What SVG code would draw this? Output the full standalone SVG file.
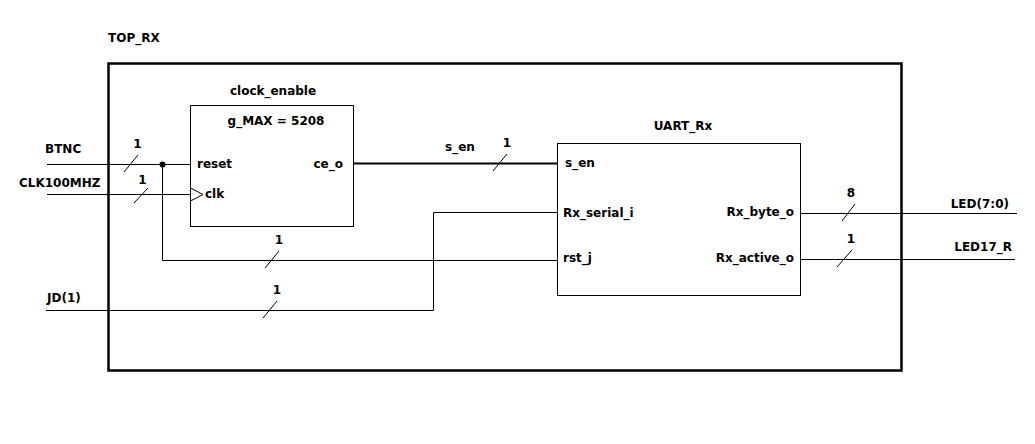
<svg xmlns="http://www.w3.org/2000/svg" width="1035" height="444" viewBox="0 0 1035 444">
<style>
text{font-family:"DejaVu Sans","Liberation Sans",sans-serif;font-weight:bold;font-size:12px;fill:#000}
.w{fill:none;stroke:#000;stroke-width:1}
.box{fill:#fff;stroke:#000;stroke-width:1}
.sl{stroke:#000;stroke-width:1}
.e{text-anchor:end}
.m{text-anchor:middle}
</style>
<rect width="1035" height="444" fill="#fff"/>
<g id="top_rx">
<rect x="108.5" y="63.5" width="793" height="307" fill="none" stroke="#000" stroke-width="2.5"/>
<text x="108" y="42">TOP_RX</text>
</g>
<g id="connectors">
<polyline class="w" points="47,164.5 190,164.5"/>
<polyline class="w" points="47,194.5 190,194.5"/>
<polyline class="w" points="162.5,164.5 162.5,260.5 557,260.5"/>
<polyline class="w" points="46,310.5 433.5,310.5 433.5,212.5 557,212.5"/>
<line x1="353" y1="163.5" x2="557" y2="163.5" stroke="#000" stroke-width="2"/>
<polyline class="w" points="801,213.5 1017,213.5"/>
<polyline class="w" points="801,259.5 1015,259.5"/>
<circle cx="162.5" cy="164.5" r="3" fill="#000"/>
<line class="sl" x1="124" y1="172" x2="138" y2="155"/>
<line class="sl" x1="134" y1="203" x2="148" y2="188"/>
<line class="sl" x1="265" y1="268" x2="279" y2="251"/>
<line class="sl" x1="263" y1="318" x2="277" y2="301"/>
<line class="sl" x1="493" y1="171" x2="507" y2="154"/>
<line class="sl" x1="842" y1="221" x2="855" y2="204"/>
<line class="sl" x1="837" y1="267" x2="852" y2="250"/>
<text x="45" y="153">BTNC</text>
<text x="19" y="187">CLK100MHZ</text>
<text x="47" y="302">JD(1)</text>
<text class="m" x="137.5" y="148">1</text>
<text class="m" x="142.5" y="184">1</text>
<text class="m" x="279" y="244">1</text>
<text class="m" x="277" y="294">1</text>
<text x="445" y="151">s_en</text>
<text class="m" x="507" y="147">1</text>
<text class="m" x="851" y="197">8</text>
<text class="m" x="851" y="243">1</text>
<text class="e" x="1009" y="208">LED(7:0)</text>
<text class="e" x="1012" y="251">LED17_R</text>
</g>
<g id="clock_enable">
<rect class="box" x="190.5" y="105.5" width="163" height="121"/>
<polyline class="w" points="190.5,188 203,194.5 190.5,201"/>
<text class="m" x="273" y="95">clock_enable</text>
<text class="m" x="276" y="125">g_MAX = 5208</text>
<text x="197" y="168">reset</text>
<text x="205" y="198">clk</text>
<text class="e" x="343" y="168">ce_o</text>
</g>
<g id="uart_rx">
<rect class="box" x="557.5" y="143.5" width="243" height="152"/>
<text class="m" x="683" y="130">UART_Rx</text>
<text x="565" y="167">s_en</text>
<text x="563" y="217">Rx_serial_i</text>
<text x="563" y="262">rst_j</text>
<text class="e" x="794" y="216">Rx_byte_o</text>
<text class="e" x="794" y="262">Rx_active_o</text>
</g>
</svg>
